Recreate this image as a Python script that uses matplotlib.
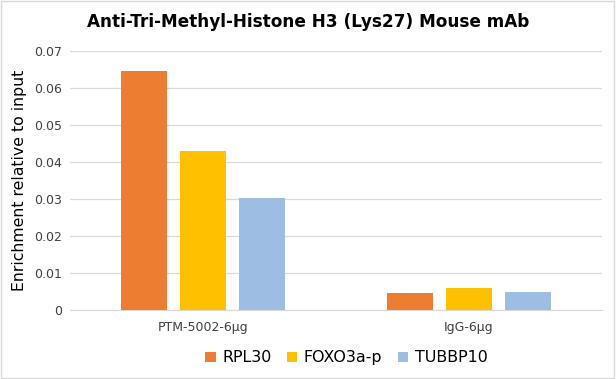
import matplotlib
matplotlib.use("Agg")
import matplotlib.pyplot as plt
import numpy as np

groups = ["PTM-5002-6μg", "IgG-6μg"]
series = ["RPL30", "FOXO3a-p", "TUBBP10"]
rpl30 = [0.0647, 0.0046]
foxo3a = [0.0429, 0.0060]
tubbp10 = [0.0303, 0.0049]
colors = ["#ED7D31", "#FFC000", "#9DBDE2"]

fig = plt.figure(figsize=(6.16, 3.79), dpi=100)
ax = fig.add_axes([0.1136, 0.182, 0.863, 0.683])

x = np.arange(len(groups))
width = 0.173
step = 0.222
for i, (vals, name) in enumerate(zip([rpl30, foxo3a, tubbp10], series)):
    ax.bar(x + (i - 1) * step, vals, width, color=colors[i], label=name, zorder=3)

ax.set_xlim(-0.5, 1.5)
ax.set_ylim(0, 0.07)
ax.set_yticks(np.arange(0, 0.071, 0.01))
ax.set_yticklabels(["0"] + [f"{v:.2f}" for v in np.arange(0.01, 0.071, 0.01)])
ax.set_xticks(x)
ax.set_xticklabels(groups)
ax.tick_params(axis="both", length=0, labelsize=9, colors="#404040")
ax.tick_params(axis="y", pad=6)
ax.tick_params(axis="x", pad=8)
ax.grid(True, axis="y", color="#D9D9D9", linewidth=0.9, zorder=0)
for s in ["top", "right", "left"]:
    ax.spines[s].set_visible(False)
ax.spines["bottom"].set_color("#D9D9D9")

ax.set_ylabel("Enrichment relative to input", fontsize=11.3, color="#000000", labelpad=5)
fig.suptitle("Anti-Tri-Methyl-Histone H3 (Lys27) Mouse mAb", fontsize=12.2, fontweight="bold",
             x=0.5, y=0.965)

ax.legend(loc="center", bbox_to_anchor=(0.52, -0.185), ncol=3, frameon=False,
          fontsize=11.4, handlelength=0.65, handleheight=0.65, columnspacing=1.0, handletextpad=0.4)

fig.patches.append(plt.Rectangle((0.002, 0.003), 0.995, 0.994, transform=fig.transFigure,
                                 fill=False, edgecolor="#D9D9D9", linewidth=1))

plt.savefig("out.png", dpi=100)
plt.close()
